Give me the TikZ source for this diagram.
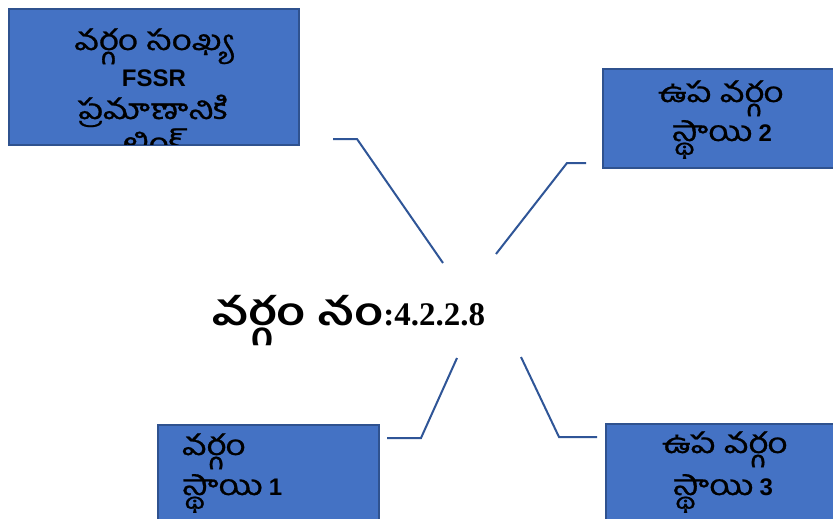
\documentclass[tikz,border=0pt]{standalone}
\usepackage{graphicx}
\usepackage{fontspec}
\setmainfont{Liberation Sans}
\newfontfamily\te[Script=Telugu,Scale=1.28,FakeBold=0.8]{Hind Guntur}
\newfontfamily\teb[Script=Telugu,Scale=1.28]{Hind Guntur}
\newfontfamily\numserif{Liberation Serif}
\newcommand\tel[1]{\scalebox{1.24}[1]{\te #1}}
\newcommand\telb[1]{\scalebox{1.24}[1]{\teb\bfseries #1}}
\definecolor{boxfill}{HTML}{4472C4}
\definecolor{boxline}{HTML}{2F528F}
\definecolor{conn}{HTML}{2F5597}
\begin{document}
\begin{tikzpicture}[x=1pt,y=-1pt,
  box/.style={draw=boxline,line width=2pt,fill=boxfill,inner sep=0pt,outer sep=0pt},
  bline/.style={inner sep=0pt,anchor=base,font=\fontsize{22}{26}\selectfont,text=black},
  lline/.style={bline,anchor=base west},
  lat/.style={font=\fontsize{24}{26}\selectfont\bfseries},
  link/.style={draw=conn,line width=2pt}]
\clip (0,0) rectangle (833,519);
\fill[white] (0,0) rectangle (833,519);
% boxes
\node[box,minimum width=290pt,minimum height=136pt] (b1) at (154,77) {};
\node[box,minimum width=237pt,minimum height=99pt] (b2) at (721.5,118.5) {};
\node[box,minimum width=221pt,minimum height=100pt] (b3) at (268.5,475) {};
\node[box,minimum width=234pt,minimum height=101pt] (b4) at (723,474.5) {};
% box 1 text (clipped by the box)
\begin{scope}
\clip (10,10) rectangle (298,144);
\node[bline] (t1a) at (153,50) {\tel{వర్గం సంఖ్య}};
\node[bline,lat] (t1b) at (154,86) {FSSR};
\node[bline] (t1c) at (153,119) {\tel{ప్రమాణానికి}};
\node[bline] (t1d) at (154,153) {\tel{లింక్}};
\end{scope}
% box 2
\node[bline] (t2a) at (721,102) {\tel{ఉప వర్గం}};
\node[bline] (t2b) at (722,141) {\tel{స్థాయి} {\fontsize{24}{26}\selectfont\bfseries 2}};
% box 3
\node[lline] (t3a) at (182,455) {\tel{వర్గం}};
\node[lline] (t3b) at (182,495) {\tel{స్థాయి} {\fontsize{24}{26}\selectfont\bfseries 1}};
% box 4
\node[bline] (t4a) at (725,453) {\tel{ఉప వర్గం}};
\node[bline] (t4b) at (723,495) {\tel{స్థాయి} {\fontsize{24}{26}\selectfont\bfseries 3}};
% centre
\node[inner sep=0pt,anchor=base west,font=\fontsize{30}{36}\selectfont\bfseries] (c) at (212,325)
  {\telb{వర్గం నం}{\numserif\fontsize{33}{36}\selectfont :4.2.2.8}};
% connector ends
\coordinate (c1) at (443,263);
\coordinate (c2) at (496,254);
\coordinate (c3) at (457,358);
\coordinate (c4) at (521,357);
\coordinate (e1) at (333,139);
\coordinate (e2) at (586,163);
\coordinate (e3) at (387,438);
\coordinate (e4) at (597,437);
\draw[link] (e1) -- (357,139) -- (c1);
\draw[link] (c2) -- (567,163) -- (e2);
\draw[link] (e3) -- (421,438) -- (c3);
\draw[link] (c4) -- (559,437) -- (e4);
\end{tikzpicture}
\end{document}
